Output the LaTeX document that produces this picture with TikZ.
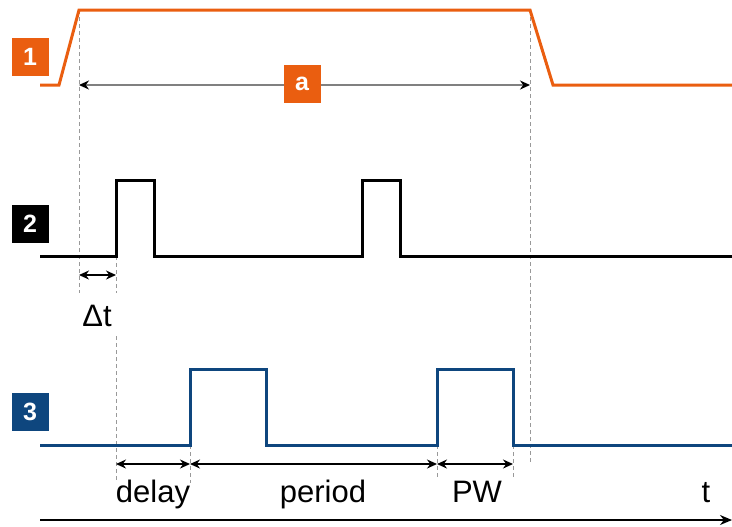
\documentclass[tikz,border=0pt]{standalone}
\usepackage{fontspec}
\setmainfont{Liberation Sans}
\usepackage{xcolor}
\usepackage{tikz}
\usetikzlibrary{arrows.meta,positioning}

\definecolor{sigorange}{RGB}{234,94,16}
\definecolor{sigblue}{RGB}{14,70,126}

\begin{document}
\begin{tikzpicture}[
  x=0.5pt, y=-0.5pt,
  font=\fontsize{15.5}{18}\selectfont,
  tag/.style={minimum width=18.5pt, minimum height=19pt, inner sep=0pt, text=white, font=\fontsize{12.5}{14}\selectfont\bfseries},
  sig/.style={line width=1.5pt, line join=miter},
  guide/.style={draw=black!40, line width=0.5pt, dash pattern=on 2pt off 1.5pt},
  dim/.style={{Stealth[length=5pt,width=4.5pt,color=black]}-{Stealth[length=5pt,width=4.5pt,color=black]}, line width=0.7pt},
  lbl/.style={inner sep=0pt, anchor=base},
]
\useasboundingbox (0,0) rectangle (732,526);

% time marks
\coordinate (a0) at (79,10);
\coordinate (a1) at (530,10);
\coordinate (d0) at (116,256);
\coordinate (p0) at (190,445);
\coordinate (p1) at (437,445);
\coordinate (w1) at (513,445);

% guides
\draw[guide] (a0) -- (79,293);
\draw[guide] (a1) -- (530,465);
\draw[guide] (d0) -- (116,293);
\draw[guide] (116,336) -- (116,483);
\draw[guide] (p0) -- (190,483);
\draw[guide] (p1) -- (437,480);
\draw[guide] (w1) -- (513,480);

% signal 1
\draw[sig, sigorange] (40,85) -- (59,85) -- (a0) -- (a1) -- (553,85) -- (732,85);
\node[tag, fill=sigorange] (n1) at (30,57) {1};
\draw[dim, draw=black!50] (79,85) -- (530,85);
\node[tag, fill=sigorange] (na) at (302,84) {a};

% signal 2
\draw[sig, black] (40,256) -- (d0) -- (116,180) -- (154,180) -- (154,256) -- (362,256) -- (362,180) -- (400,180) -- (400,256) -- (732,256);
\node[tag, fill=black] (n2) at (30,224) {2};
\draw[dim] (79,275) -- (116,275);
\node[lbl] (dt) at (97,326) {Δt};

% signal 3
\draw[sig, sigblue] (40,445) -- (p0) -- (190,369) -- (266,369) -- (266,445) -- (p1) -- (437,369) -- (w1 |- 0,369) -- (w1) -- (732,445);
\node[tag, fill=sigblue] (n3) at (30,412) {3};

% intervals
\draw[dim] (116,464) -- (190,464);
\draw[dim] (190,464) -- (437,464);
\draw[dim] (437,464) -- (513,464);
\node[lbl] (ldelay) at (153,502) {delay};
\node[lbl] (lperiod) at (323,502) {period};
\node[lbl] (lpw) at (477,502) {PW};
\node[lbl] (lt) at (706,502) {t};

% time axis
\coordinate (ax0) at (40,520);
\coordinate (ax1) at (732,520);
\draw[-{Stealth[length=6pt,width=5pt]}, line width=0.8pt] (ax0) -- (ax1);
\end{tikzpicture}
\end{document}
